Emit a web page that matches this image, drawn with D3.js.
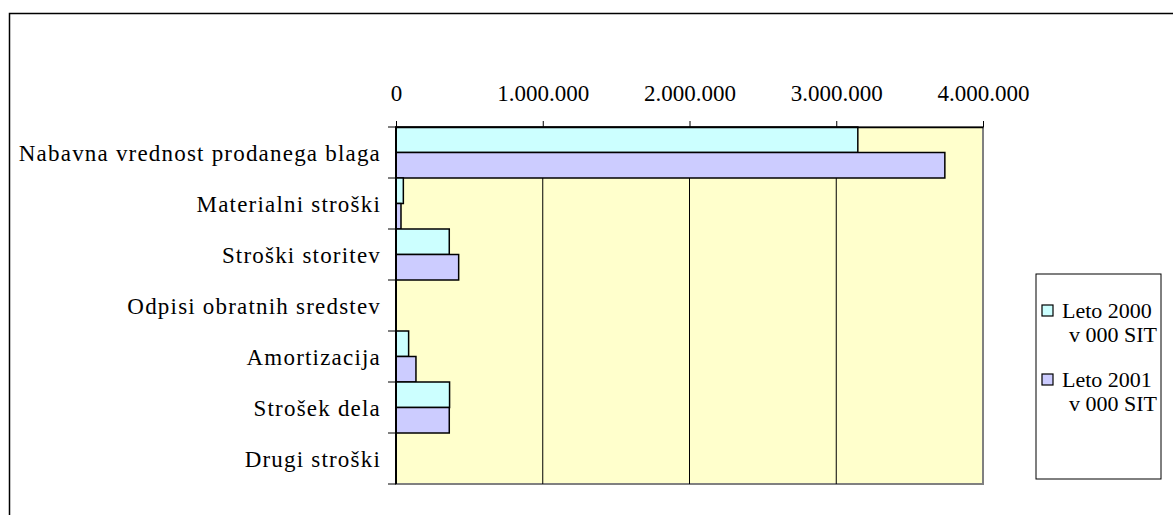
<!DOCTYPE html>
<html>
<head>
<meta charset="utf-8">
<script src="https://cdn.jsdelivr.net/npm/d3@7"></script>
<style>
  body { margin: 0; background: #fff; }
</style>
</head>
<body>
<script>
var w = 1173;
var h = 515;

// data
var categories = ["Nabavna vrednost prodanega blaga", "Materialni stroški", "Stroški storitev",
    "Odpisi obratnih sredstev", "Amortizacija", "Strošek dela", "Drugi stroški"];
var leto2000 = [3147000, 50000, 363000, 0, 86000, 365000, 0];
var leto2001 = [3740000, 34000, 427000, 0, 136000, 363000, 0];
var seriesNames = ["Leto 2000", "Leto 2001"];
var seriesSub = "v 000 SIT";
var tickValues = [0, 1000000, 2000000, 3000000, 4000000];

var colors = ["#CCFFFF", "#CCCCFF"];
var fontName = "Liberation Serif";
var fs = 23;

var svg = d3.select("body").append("svg")
    .attr("width", w)
    .attr("height", h)
    .attr("font-family", fontName);

// outer chart frame (runs off the picture right and bottom)
svg.append("rect")
    .attr("x", 9.5).attr("y", 13.5)
    .attr("width", 1200).attr("height", 600)
    .attr("fill", "#fff")
    .attr("stroke", "#000")
    .attr("stroke-width", 1.5);

var x = d3.scaleLinear().domain([0, 4000000]).range([396, 983]);
var y = d3.scaleBand().domain(categories).range([127, 484]).padding(0);
var ySub = d3.scaleBand().domain(seriesNames).range([0, y.bandwidth()]).padding(0);

var fmt = d3.formatLocale({decimal: ",", thousands: ".", grouping: [3], currency: ["", ""]}).format(",d");

// plot area
svg.append("rect")
    .attr("x", x(0)).attr("y", y.range()[0])
    .attr("width", x(4000000) - x(0))
    .attr("height", y.range()[1] - y.range()[0])
    .attr("fill", "#FFFFCC")
    .attr("stroke", "#808080")
    .attr("stroke-width", 2);

// gridlines
svg.selectAll(".grid")
    .data(tickValues.slice(1, 4))
    .enter().append("line")
    .attr("x1", function(d){ return x(d); })
    .attr("x2", function(d){ return x(d); })
    .attr("y1", y.range()[0])
    .attr("y2", y.range()[1])
    .attr("stroke", "#000")
    .attr("stroke-width", 1);

// bars
var rows = categories.map(function(c, i){
    return [{cat: c, s: seriesNames[0], v: leto2000[i], col: colors[0]},
            {cat: c, s: seriesNames[1], v: leto2001[i], col: colors[1]}];
});
var flat = [].concat.apply([], rows);

svg.selectAll(".bar")
    .data(flat.filter(function(d){ return d.v > 0; }))
    .enter().append("rect")
    .attr("x", x(0))
    .attr("y", function(d){ return y(d.cat) + ySub(d.s); })
    .attr("width", function(d){ return x(d.v) - x(0); })
    .attr("height", ySub.bandwidth())
    .attr("fill", function(d){ return d.col; })
    .attr("stroke", "#000")
    .attr("stroke-width", 1.5);

// top axis
var xAxis = d3.axisTop(x)
    .tickValues(tickValues)
    .tickFormat(fmt)
    .tickSize(6)
    .tickSizeOuter(0)
    .tickPadding(20);

var gx = svg.append("g")
    .attr("transform", "translate(0," + y.range()[0] + ")")
    .call(xAxis);
gx.attr("font-family", fontName).attr("font-size", fs);
gx.select(".domain").attr("stroke", "#000").attr("stroke-width", 1.5);
gx.selectAll(".tick line").attr("stroke", "#000").attr("stroke-width", 1);
gx.selectAll("text").attr("fill", "#000");

// left axis line + ticks at band edges
svg.append("line")
    .attr("x1", x(0)).attr("x2", x(0))
    .attr("y1", y.range()[0]).attr("y2", y.range()[1])
    .attr("stroke", "#000").attr("stroke-width", 2);

var edges = categories.map(function(c){ return y(c); }).concat([y.range()[1]]);
svg.selectAll(".ytick")
    .data(edges)
    .enter().append("line")
    .attr("x1", x(0) - 8).attr("x2", x(0))
    .attr("y1", function(d){ return d; })
    .attr("y2", function(d){ return d; })
    .attr("stroke", "#000").attr("stroke-width", 1);

svg.selectAll(".ylab")
    .data(categories)
    .enter().append("text")
    .attr("x", 381)
    .attr("y", function(d){ return y(d) + y.bandwidth() / 2; })
    .attr("dy", "0.38em")
    .attr("text-anchor", "end")
    .attr("font-size", fs)
    .attr("letter-spacing", 1.2)
    .text(function(d){ return d; });

// legend
var lg = svg.append("g").attr("transform", "translate(1036,274)");
lg.append("rect")
    .attr("width", 125).attr("height", 205)
    .attr("fill", "#fff")
    .attr("stroke", "#000")
    .attr("stroke-width", 1);

var items = lg.selectAll(".item")
    .data(seriesNames)
    .enter().append("g")
    .attr("transform", function(d, i){ return "translate(0," + (44 + i * 69) + ")"; });
items.append("rect")
    .attr("x", 6).attr("y", -13)
    .attr("width", 11).attr("height", 11)
    .attr("fill", function(d, i){ return colors[i]; })
    .attr("stroke", "#000").attr("stroke-width", 1.2);
items.append("text")
    .attr("x", 26).attr("y", 0)
    .attr("font-size", 22)
    .text(function(d){ return d; });
items.append("text")
    .attr("x", 33).attr("y", 24)
    .attr("font-size", 22)
    .text(seriesSub);
</script>
</body>
</html>
